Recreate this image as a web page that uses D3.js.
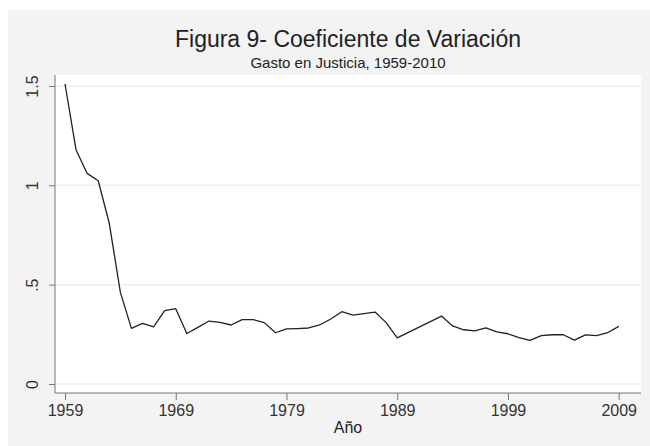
<!DOCTYPE html>
<html>
<head>
<meta charset="utf-8">
<script src="https://cdn.jsdelivr.net/npm/d3@7"></script>
<style>
  html, body { margin: 0; padding: 0; background: #fff; }
  svg { display: block; font-family: "Liberation Sans", Arial, sans-serif; }
</style>
</head>
<body>
<svg id="chart" width="650" height="446"></svg>
<script>
// --- data ---
const years = [1959, 1960, 1961, 1962, 1963, 1964, 1965, 1966, 1967, 1968, 1969,
  1970, 1971, 1972, 1973, 1974, 1975, 1976, 1977, 1978, 1979,
  1980, 1981, 1982, 1983, 1984, 1985, 1986, 1987, 1988, 1989,
  1993, 1994, 1995, 1996, 1997, 1998, 1999,
  2000, 2001, 2002, 2003, 2004, 2005, 2006, 2007, 2008, 2009];
const cv = [1.51, 1.178, 1.06, 1.023, 0.809, 0.461, 0.28, 0.305, 0.288, 0.369, 0.379,
  0.254, 0.285, 0.317, 0.31, 0.297, 0.324, 0.324, 0.309, 0.258, 0.277,
  0.279, 0.282, 0.297, 0.327, 0.364, 0.347, 0.354, 0.362, 0.309, 0.232,
  0.342, 0.292, 0.273, 0.267, 0.283, 0.262, 0.253,
  0.233, 0.22, 0.243, 0.248, 0.248, 0.221, 0.247, 0.243, 0.258, 0.29];
const xTicks = [1959, 1969, 1979, 1989, 1999, 2009];
const yTicks = [0, 0.5, 1, 1.5];
const yTickLabels = ["0", ".5", "1", "1.5"];

const svg = d3.select("#chart");

// outer graph region
svg.append("rect").attr("x", 8).attr("y", 10).attr("width", 642).attr("height", 436)
  .attr("fill", "#f3f3f3");

// plot region
const plotL = 55, plotR = 641, plotT = 75, plotB = 393;
svg.append("rect").attr("x", plotL).attr("y", plotT)
  .attr("width", plotR - plotL).attr("height", plotB - plotT).attr("fill", "#fff");

const x = d3.scaleLinear().domain([1959, 2009]).range([65, 618.7]);
const y = d3.scaleLinear().domain([0, 1.5]).range([384, 86]);

// grid
svg.append("g").selectAll("line").data(yTicks).join("line")
  .attr("x1", plotL).attr("x2", plotR)
  .attr("y1", d => y(d)).attr("y2", d => y(d))
  .attr("stroke", "#eeeeee").attr("stroke-width", 1.5);

// y axis
const yAxis = svg.append("g").attr("transform", `translate(${plotL},0)`)
  .call(d3.axisLeft(y).tickValues(yTicks).tickSize(6).tickPadding(4)
    .tickFormat((d, i) => yTickLabels[i]));
yAxis.select(".domain").attr("d", `M0,${plotT}V${plotB}`).attr("stroke", "#777");
yAxis.selectAll(".tick line").attr("stroke", "#777");
yAxis.selectAll(".tick text")
  .attr("font-size", 16).attr("fill", "#333")
  .attr("transform", "rotate(-90)")
  .attr("x", 0).attr("y", -17).attr("dy", 0)
  .attr("text-anchor", "middle");

// x axis
const xAxis = svg.append("g").attr("transform", `translate(0,${plotB})`)
  .call(d3.axisBottom(x).tickValues(xTicks).tickSize(7).tickPadding(5)
    .tickFormat(d3.format("d")));
xAxis.select(".domain").attr("d", `M${plotL},0H${plotR}`).attr("stroke", "#777");
xAxis.selectAll(".tick line").attr("stroke", "#777");
xAxis.selectAll(".tick text").attr("font-size", 16).attr("fill", "#333");

// series line
const line = d3.line().x((d, i) => x(years[i])).y(d => y(d));
svg.append("path").datum(cv)
  .attr("d", line)
  .attr("fill", "none").attr("stroke", "#222").attr("stroke-width", 1.3)
  .attr("stroke-linejoin", "round");

// titles
const cx = (plotL + plotR) / 2;
svg.append("text").attr("x", cx).attr("y", 47).attr("text-anchor", "middle")
  .attr("font-size", 23).attr("fill", "#222").text("Figura 9- Coeficiente de Variación");
svg.append("text").attr("x", cx).attr("y", 68).attr("text-anchor", "middle")
  .attr("font-size", 15).attr("fill", "#222").text("Gasto en Justicia, 1959-2010");
svg.append("text").attr("x", cx).attr("y", 433).attr("text-anchor", "middle")
  .attr("font-size", 16).attr("fill", "#222").text("Año");
</script>
</body>
</html>
